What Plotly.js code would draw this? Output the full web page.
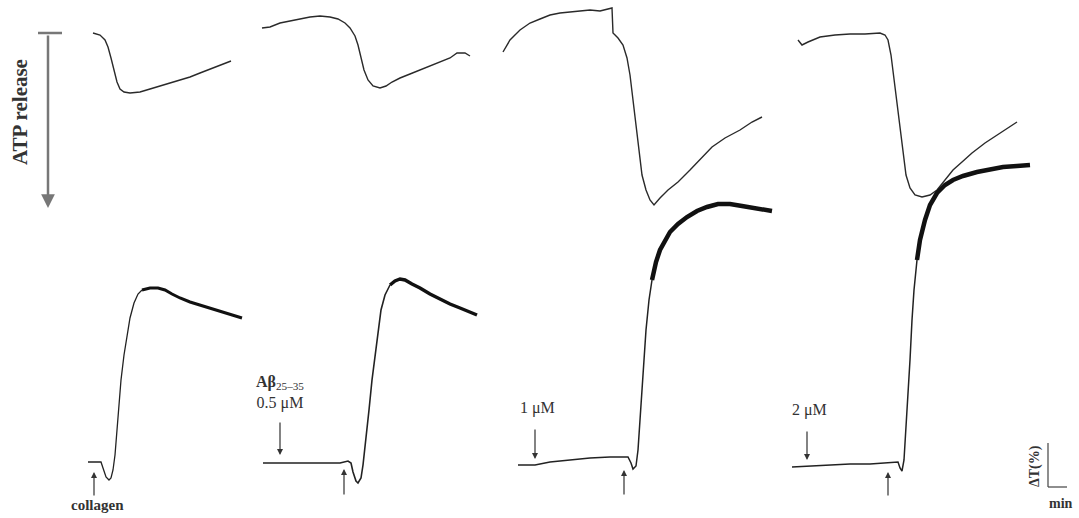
<!DOCTYPE html>
<html>
<head>
<meta charset="utf-8">
<script src="https://cdn.plot.ly/plotly-3.0.1.min.js"></script>
<style>html,body{margin:0;padding:0;background:#fff;}#chart{width:1079px;height:518px;}</style>
</head>
<body>
<div id="chart"></div>
<script>
// ATP release traces (luminescence)
const atp1X = [93,100,105,108,111,114,117,120,124,130,140,150,160,170,180,190,200,210,220,231];
const atp1Y = [33,35,40,47,58,70,82,89,92,93,92,89,86,83,80,77,73,69,65,61];
const atp2X = [262,270,280,290,300,310,320,330,338,345,350,355,358,361,364,368,373,380,386,392,400,410,420,430,440,450,457,465,470];
const atp2Y = [28,27,23,21,19,17,16,17,19,23,28,36,45,58,70,80,86,88,86,82,78,74,70,66,62,58,53,53,56];
const atp3X = [503,510,520,530,540,550,560,570,580,590,600,610,612,613,618,623,627,630,633,636,639,642,646,650,654,660,668,678,690,700,712,725,740,752,762];
const atp3Y = [52,40,30,23,19,15,13,12,11,10,11,9,8,33,38,45,58,75,100,130,155,175,190,200,205,198,190,182,170,160,147,138,130,122,117];
const atp4X = [798,802,808,820,835,850,865,880,885,888,891,894,897,900,903,906,910,915,922,930,937,945,953,962,972,985,1000,1017];
const atp4Y = [40,45,42,37,35,34,34,33,35,40,55,80,105,130,155,175,188,195,197,195,190,180,170,162,153,143,133,122];

// Aggregation traces: baseline + rise (a) and plateau (b)
const agg1aX = [88,101,103,106,109,111,113,115,117,119,121,124,127,130,134,138,142];
const agg1aY = [462,462,468,477,480,478,470,455,430,405,380,355,335,318,303,294,290];
const agg1bX = [142,150,158,165,172,180,190,200,210,220,230,242];
const agg1bY = [290,288,288,290,294,298,302,305,308,311,314,318];
const agg2aX = [263,280,300,320,340,348,351,353,356,358,361,363,366,369,372,375,378,381,385,390];
const agg2aY = [463,463,463,463,463,461,463,472,481,483,478,465,440,410,380,355,330,310,295,285];
const agg2bX = [390,395,400,405,412,420,430,440,450,460,470,477];
const agg2bY = [285,281,279,280,284,288,294,299,304,308,312,315];
const agg3aX = [518,535,550,570,590,610,628,631,633,636,638,640,642,644,646,649,652];
const agg3aY = [465,465,462,460,458,457,457,463,469,466,450,420,390,355,330,300,280];
const agg3bX = [652,656,660,665,670,678,687,697,707,718,730,742,752,762,772];
const agg3bY = [280,262,250,240,232,224,217,211,207,204,204,206,208,210,211];
const agg4aX = [792,810,830,850,870,890,898,900,902,904,906,908,910,912,914,917];
const agg4aY = [467,466,465,464,464,463,462,468,471,460,430,400,360,320,290,260];
const agg4bX = [917,920,925,930,937,945,953,963,977,990,1003,1017,1030];
const agg4bY = [260,240,220,205,193,185,180,176,172,169,167,166,165];

const doseLabels = ["<b>Aβ</b><sub>25–35</sub><br>0.5 μM", "1 μM", "2 μM"];

const thin = {color:'#2a2a2a', width:1.4};
function tr(x,y,line){return {x:x,y:y,mode:'lines',type:'scatter',line:line,hoverinfo:'skip',showlegend:false};}
const data = [
  tr(atp1X,atp1Y,thin), tr(atp2X,atp2Y,thin), tr(atp3X,atp3Y,thin), tr(atp4X,atp4Y,thin),
  tr(agg1aX,agg1aY,{color:'#222',width:1.3}), tr(agg1bX,agg1bY,{color:'#111',width:3}),
  tr(agg2aX,agg2aY,{color:'#222',width:1.6}), tr(agg2bX,agg2bY,{color:'#111',width:3.5}),
  tr(agg3aX,agg3aY,{color:'#222',width:1.5}), tr(agg3bX,agg3bY,{color:'#111',width:4.5}),
  tr(agg4aX,agg4aY,{color:'#222',width:1.5}), tr(agg4bX,agg4bY,{color:'#111',width:4.5})
];

const serif = 'Liberation Serif, Times New Roman, serif';
function arrow(x, yTail, yHead){
  return {x:x, y:yHead, ax:x, ay:yTail, axref:'x', ayref:'y', xref:'x', yref:'y',
    showarrow:true, arrowhead:2, arrowsize:1, arrowwidth:1.2, arrowcolor:'#333', text:''};
}
function label(x,y,text,size,bold){
  return {x:x,y:y,xref:'x',yref:'y',text:bold?'<b>'+text+'</b>':text,showarrow:false,align:'center',
    font:{family:serif,size:size,color:'#333'},xanchor:'center',yanchor:'middle'};
}
const annotations = [
  // ATP release arrow
  {x:48, y:208, ax:48, ay:34, axref:'x', ayref:'y', xref:'x', yref:'y', showarrow:true,
   arrowhead:2, arrowsize:1.1, arrowwidth:2.5, arrowcolor:'#777', text:''},
  {x:20, y:112, xref:'x', yref:'y', text:'<b>ATP release</b>', showarrow:false, textangle:-90,
   font:{family:serif,size:21,color:'#333'}},
  // collagen
  arrow(94, 497, 472),
  label(97, 505, 'collagen', 15, true),
  // dose labels and arrows
  label(280, 392, doseLabels[0], 16, false),
  arrow(280, 421, 455),
  arrow(344, 496, 469),
  label(537, 408, doseLabels[1], 16, false),
  arrow(535, 428, 459),
  arrow(624, 496, 470),
  label(809, 410, doseLabels[2], 16, false),
  arrow(807, 430, 460),
  arrow(888, 497, 472),
  // scale bar labels
  {x:1035, y:466, xref:'x', yref:'y', text:'<b>ΔT(%)</b>', showarrow:false, textangle:-90,
   font:{family:serif,size:14,color:'#333'}},
  label(1061, 503, 'min', 14, true)
];
const shapes = [
  {type:'line', xref:'x', yref:'y', x0:38, x1:62, y0:33, y1:33, line:{color:'#777', width:2.5}},
  {type:'line', xref:'x', yref:'y', x0:1048, x1:1048, y0:443, y1:487, line:{color:'#444', width:1.2}},
  {type:'line', xref:'x', yref:'y', x0:1048, x1:1067, y0:487, y1:487, line:{color:'#444', width:1.2}}
];
const layout = {
  width:1079, height:518, margin:{l:0,r:0,t:0,b:0},
  paper_bgcolor:'#fff', plot_bgcolor:'#fff',
  xaxis:{range:[0,1079], visible:false, fixedrange:true},
  yaxis:{range:[518,0], visible:false, fixedrange:true},
  annotations:annotations, shapes:shapes, showlegend:false
};
Plotly.newPlot('chart', data, layout, {staticPlot:true, displayModeBar:false});
</script>
</body>
</html>
